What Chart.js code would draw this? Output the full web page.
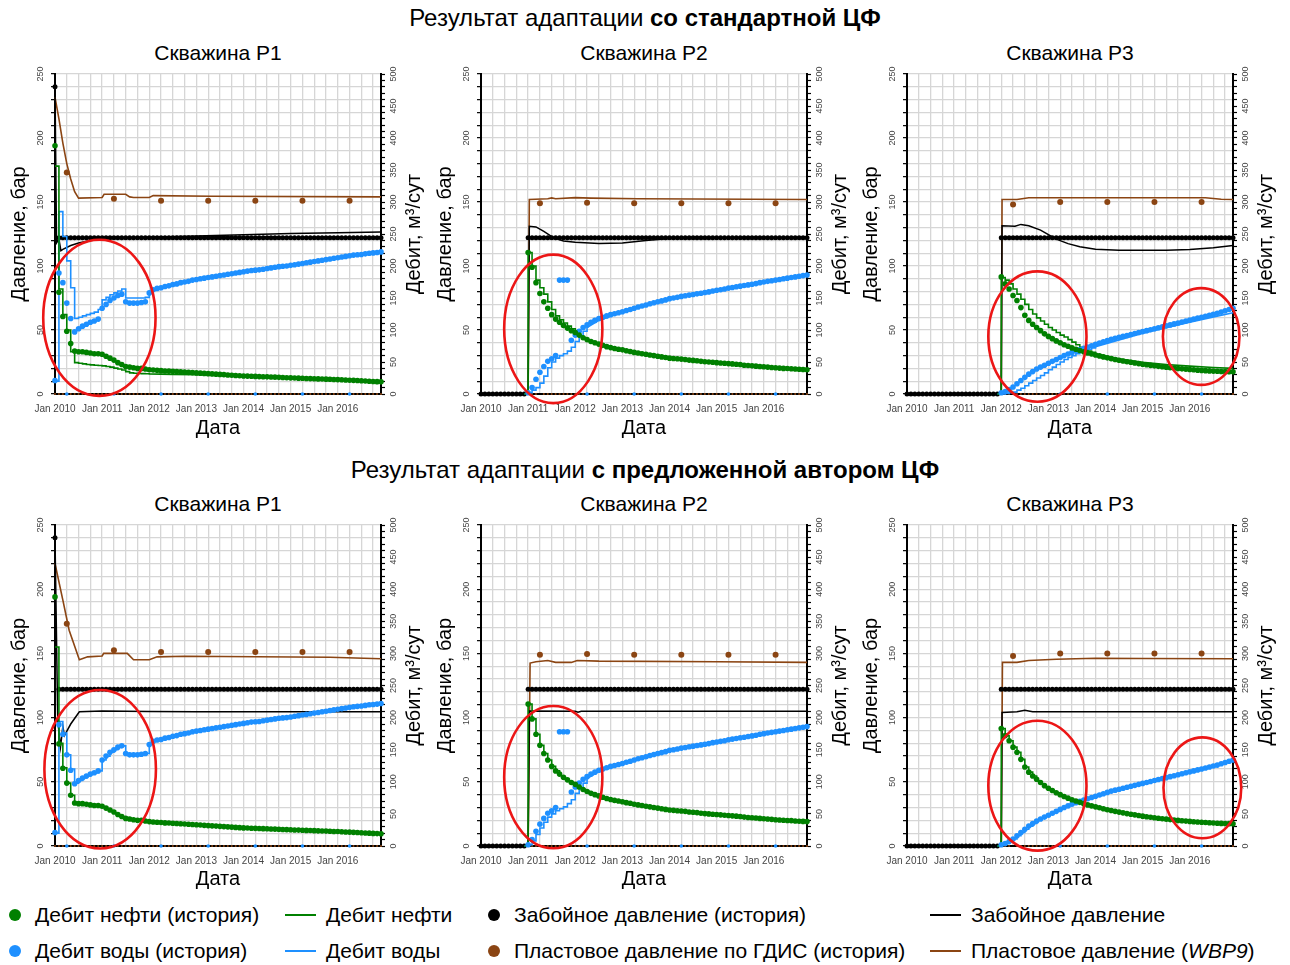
<!DOCTYPE html>
<html><head><meta charset="utf-8">
<script src="https://cdn.jsdelivr.net/npm/chart.js@4.4.0/dist/chart.umd.min.js"></script>
<style>
body{margin:0;width:1290px;height:965px;background:#fff;position:relative;overflow:hidden;font-family:"Liberation Sans",Arial,sans-serif;color:#000;}
.h{position:absolute;left:0;width:1290px;text-align:center;font-size:24px;line-height:28px;white-space:nowrap;}
.pt{position:absolute;width:400px;text-align:center;font-size:21px;line-height:24px;}
canvas{position:absolute;}
.lt{position:absolute;font-size:21px;line-height:24px;white-space:nowrap;}
.ld{position:absolute;width:12px;height:12px;border-radius:50%;}
.ll{position:absolute;width:31px;height:2px;}
</style></head><body>
<div class="h" style="top:4px">Результат адаптации <b>со стандартной ЦФ</b></div>
<div class="h" style="top:456px">Результат адаптации <b>с предложенной автором ЦФ</b></div>
<div id="titles"></div>
<canvas id="c0" width="430" height="400" style="left:0px;top:40px"></canvas>
<canvas id="c1" width="430" height="400" style="left:426px;top:40px"></canvas>
<canvas id="c2" width="430" height="400" style="left:852px;top:40px"></canvas>
<canvas id="c3" width="430" height="400" style="left:0px;top:491px"></canvas>
<canvas id="c4" width="430" height="400" style="left:426px;top:491px"></canvas>
<canvas id="c5" width="430" height="400" style="left:852px;top:491px"></canvas>
<div id="legend"></div>
<script>
// ---------------- DATA ----------------
const X_TICK_LABELS = ['Jan 2010','Jan 2011','Jan 2012','Jan 2013','Jan 2014','Jan 2015','Jan 2016'];
const Y_LEFT_LABELS = [0,50,100,150,200,250];
const Y_RIGHT_LABELS = [0,50,100,150,200,250,300,350,400,450,500];
const WELL_TITLES = ['Скважина P1','Скважина P2','Скважина P3'];
const LEFT_TITLE = 'Давление, бар';
const RIGHT_TITLE = 'Дебит, м³/сут';
const X_TITLE = 'Дата';

// History (monthly, month 0 = Jan 2010); rates in m3/day, pressures in bar
const P1_OIL_START = 0;
const P1_OIL_HIST = [
 388,159,121,98,79,67,66,66,65,64,63,63,
 62,59,56,53,49,46,43,42,41,40,40,39,
 38,37.5,37,36.5,36,35.8,35.5,35,34.6,34.2,33.8,33.4,
 33,32.6,32.2,31.8,31.4,31,30.6,30.2,29.8,29.4,29,28.6,
 28.2,28,27.7,27.5,27.2,27,26.8,26.5,26.3,26,25.8,25.5,
 25.2,25,24.8,24.5,24.3,24.1,23.9,23.6,23.4,23.2,23,22.7,
 22.5,22.2,21.9,21.6,21.3,21,20.6,20.3,20,19.6,19.3,19];
const P1_WATER_START = 0;
const P1_WATER_HIST = [
 21,189,174,142,118,97,102,106,109,112,114,117,
 134,140,146,150,154,156,144,142,142,142,143,144,
 158,163,165,166,168,169,171,172,174,175,176,178,
 179,180,181,182,183,184,185,186,187,188,189,190,
 191,192,193,193.5,194,195,196,197,198,199,199.5,200,
 201,202,203,204,205,206,207,208,209,210,211,212,
 213,214,215,216,217,217.5,218,219,220,220.5,221,222];
const P1_BHP_HIST = [
 240,122,122,122,122,122,122,122,122,122,122,122,
 122,122,122,122,122,122,122,122,122,122,122,122,
 122,122,122,122,122,122,122,122,122,122,122,122,
 122,122,122,122,122,122,122,122,122,122,122,122,
 122,122,122,122,122,122,122,122,122,122,122,122,
 122,122,122,122,122,122,122,122,122,122,122,122,
 122,122,122,122,122,122,122,122,122,122,122,122];
const P1_PRES_HIST = [
 0,0,0,173,0,0,0,0,0,0,0,0,
 0,0,0,152.5,0,0,0,0,0,0,0,0,
 0,0,0,151,0,0,0,0,0,0,0,0,
 0,0,0,151,0,0,0,0,0,0,0,0,
 0,0,0,151,0,0,0,0,0,0,0,0,
 0,0,0,151,0,0,0,0,0,0,0,0,
 0,0,0,151,0,0,0,0,0,0,0,0];
const P1_WATER_ZERO_M = [3,15,27,39,51,63,75];

const P2_OIL_START = 12;
const P2_OIL_HIST = [
 221,198,174,157,144,134,124,117,112,107,103,99,
 96,92,88,85,82,80,78,76,74,72.5,71,70,
 69,67.5,66.5,65,64,63,62,61,60,59,58,57,
 56,55.5,55,54.5,54,53,52.5,52,51,50.5,50,49.5,
 49,48.5,48,47.5,47,46.5,46,45,44.5,44,43.5,43,
 42.5,42,41.5,41,40.5,40,39.8,39.5,39,38.6,38.3,38];
const P2_WATER_START = 12;
const P2_WATER_HIST = [
 2,10,23,34,43,51,55,60,178,178,178,84,
 92,98,104,108,112,115,118,120,122,124,125.5,127,
 128.5,130.5,132,134,136,137.5,139,141,142.5,144,145.5,147,
 149,150,151,152.5,153.5,154.5,155.5,156.5,157.5,158.5,159.5,161,
 162,163,164,165.5,166.5,167.5,168.5,169.5,170.5,171.5,172.5,174,
 175,176,177,178,179,180,181,182,183,184,185,186];
const P2_BHP_HIST = [
 0,0,0,0,0,0,0,0,0,0,0,0,
 122,122,122,122,122,122,122,122,122,122,122,122,
 122,122,122,122,122,122,122,122,122,122,122,122,
 122,122,122,122,122,122,122,122,122,122,122,122,
 122,122,122,122,122,122,122,122,122,122,122,122,
 122,122,122,122,122,122,122,122,122,122,122,122,
 122,122,122,122,122,122,122,122,122,122,122,122];
const P2_PRES_HIST = [
 0,0,0,0,0,0,0,0,0,0,0,0,
 0,0,0,149,0,0,0,0,0,0,0,0,
 0,0,0,149.5,0,0,0,0,0,0,0,0,
 0,0,0,149,0,0,0,0,0,0,0,0,
 0,0,0,149,0,0,0,0,0,0,0,0,
 0,0,0,149,0,0,0,0,0,0,0,0,
 0,0,0,149,0,0,0,0,0,0,0,0];
const P2_WATER_ZERO_M = [27,39,51,63,75];

const P3_OIL_START = 24;
const P3_OIL_HIST = [
 183,172,164,154,146,135,123,115,109,104,99,94,
 90,86.5,83,80,77,74.5,72,70,68,66,64,62.5,
 61,59.5,58,56.5,55.2,54,52.8,51.6,50.5,49.5,48.5,47.5,
 46.5,45.6,44.8,44,43.2,42.5,41.8,41.1,40.5,39.9,39.3,38.8,
 38.3,37.8,37.3,36.9,36.5,36.1,35.8,35.5,35.2,35,34.8,34.6];
const P3_WATER_START = 24;
const P3_WATER_HIST = [
 2,4,7,11,16,21,26,31,35,39,42,45,
 48,51,54,57,60,62.5,65,67.5,69.5,71.5,73.5,75.5,
 77.5,79.5,81.5,83.5,85.5,87,88.5,90,91.5,93,94.5,96,
 97.5,99,100.5,102,103.5,105,106.5,108,109.5,111,112.5,114,
 115.5,117,118.5,120,121.5,123,124.5,126,128,130,132,134];
const P3_BHP_HIST = [
 0,0,0,0,0,0,0,0,0,0,0,0,
 0,0,0,0,0,0,0,0,0,0,0,0,
 122,122,122,122,122,122,122,122,122,122,122,122,
 122,122,122,122,122,122,122,122,122,122,122,122,
 122,122,122,122,122,122,122,122,122,122,122,122,
 122,122,122,122,122,122,122,122,122,122,122,122,
 122,122,122,122,122,122,122,122,122,122,122,122];
const P3_PRES_HIST = [
 0,0,0,0,0,0,0,0,0,0,0,0,
 0,0,0,0,0,0,0,0,0,0,0,0,
 0,0,0,148,0,0,0,0,0,0,0,0,
 0,0,0,150,0,0,0,0,0,0,0,0,
 0,0,0,150,0,0,0,0,0,0,0,0,
 0,0,0,150,0,0,0,0,0,0,0,0,
 0,0,0,150,0,0,0,0,0,0,0,0];
const P3_WATER_ZERO_M = [39,51,63,75];

// Simulated, standard objective function (A) and proposed one (B)
// oil / water: monthly stepped part + tail (month, value)
const P1A_OIL_STEP_START = 0;
const P1A_OIL_STEP = [356,164,124,100,66,49,48,47,46,45.5,45,44.5,44,43,42,40.5,39,37.5,35,33,32.5,32,31.8,31.6];
const P1A_OIL_TAIL_M = [24,30,36,44,48,60,72,83];
const P1A_OIL_TAIL_V = [31.4,30.6,30,29.2,28,25,22.3,18.8];
const P1A_WATER_STEP_START = 0;
const P1A_WATER_STEP = [20,285,246,208,166,118,120,122,124,126,128,132,147,151,155,158,161,164,150,150,150,150,150,151];
const P1A_WATER_TAIL_M = [24,25,36,48,60,72,83];
const P1A_WATER_TAIL_V = [158,162,179,191,201,213,222];
const P1A_BHP_M = [0,0.4,1,1.5,2,4,6,9,12,24,36,48,60,72,83];
const P1A_BHP_V = [240,118,121,112,113,116,118,120,121.5,122.5,123.5,124.5,125.3,126,126.5];
const P1A_WBP_M = [0,1,2,3,4,5,6,12,12.5,18,19,20,24,25,40,83];
const P1A_WBP_V = [232,215,196,180,168,158,153,153.5,156,156,154,153.5,153.5,155,154.5,154];

const P1B_OIL_STEP_START = 0;
const P1B_OIL_STEP = [310,160,122,98,79,65];
const P1B_OIL_TAIL_M = [6,12,15,17,20,24,36,48,60,72,83];
const P1B_OIL_TAIL_V = [66,62,53,46,41,38,33,28.2,25.2,22.5,19];
const P1B_WATER_STEP_START = 0;
const P1B_WATER_STEP = [20,194,176,142,120,98,102,106,109,112,114,117,134,140,146,150,154,156,144,142,142,142,143,144];
const P1B_WATER_TAIL_M = [24,25,36,48,60,72,83];
const P1B_WATER_TAIL_V = [158,162,179,191,201,213,222];
const P1B_BHP_M = [0,0.7,1.4,2,2.4,4,6.2,12,24,36,83];
const P1B_BHP_V = [240,98,77,93,86,95,104.5,105.2,104.8,104.5,104.5];
const P1B_WBP_M = [0,2,3.6,6.2,8.3,12,12.4,18.4,20,24,26,33,70,83];
const P1B_WBP_V = [220,191.5,168,145,147.3,148,150,150,145,145,147.3,147.8,147,145.8];

const P2A_OIL_STEP_START = 11;
const P2A_OIL_STEP = [0,221,200,178,166,156,144,132,122,116,111,106,102];
const P2A_OIL_TAIL_M = [24,25,27,30,36,48,60,72,83];
const P2A_OIL_TAIL_V = [98,93,86,79,70,57,49.5,43,39.5];
const P2A_WATER_STEP_START = 11;
const P2A_WATER_STEP = [0,2,6,10,17,28,41,50,56,60,63,67,73,82,90,98];
const P2A_WATER_TAIL_M = [27,30,36,48,60,72,83];
const P2A_WATER_TAIL_V = [104,115,128,149,162,175,186];
const P2A_BHP_M = [0,12,12.3,14,16,18.5,21,24,30,36,42,48,83];
const P2A_BHP_V = [0,0,131,130.5,127,122,119.5,118.5,117.5,118,120,121.5,122];
const P2A_WBP_M = [0,12,12.3,17,18,19,24,28,40,83];
const P2A_WBP_V = [0,0,152,152.5,153.2,152.5,153.4,153,152.5,152];

const P2B_OIL_STEP_START = 11;
const P2B_OIL_STEP = [0,221,198,174,157,144,134,124,117];
const P2B_OIL_TAIL_M = [20,24,30,36,48,60,72,83];
const P2B_OIL_TAIL_V = [112,96,78,69,56,49,42.5,38];
const P2B_WATER_STEP_START = 11;
const P2B_WATER_STEP = [0,2,8,18,28,37,45,50,55,58,61,66,72,82,90,98];
const P2B_WATER_TAIL_M = [27,30,36,48,60,72,83];
const P2B_WATER_TAIL_V = [105,116,128,149,162,175,186];
const P2B_BHP_M = [0,12,12.3,24,24.7,25.5,83];
const P2B_BHP_V = [0,0,105.2,105,104.2,105,105];
const P2B_WBP_M = [0,12,12.5,14,17,19,23,24.5,30,60,83];
const P2B_WBP_V = [0,0,142.5,143.5,144.5,143,143,144.5,144,143.5,143];

const P3A_OIL_STEP_START = 23;
const P3A_OIL_STEP = [0,182,178,172,164,156,148,140,132,125,119,114,109,104,100,96,92,89,85,81,77,73,70,67,65];
const P3A_OIL_TAIL_M = [48,54,60,66,72,78,83];
const P3A_OIL_TAIL_V = [63,55,49.5,46,43.5,41.5,40];
const P3A_WATER_STEP_START = 23;
const P3A_WATER_STEP = [0,0,1,2,3,6,9,13,17,21,25,29,33,38,42,46,50,54,57,60,63,66,68,70,72];
const P3A_WATER_TAIL_M = [48,60,72,83];
const P3A_WATER_TAIL_V = [74,95,112,127];
const P3A_BHP_M = [0,24,24.2,27.5,29,31,34,36,38,41,44,48,54,66,72,78,83];
const P3A_BHP_V = [0,0,131.5,131,132.5,131.5,128,124.5,121,117.5,115,113,112.3,112.3,112.8,114.2,116];
const P3A_WBP_M = [0,24,24.2,28,31,60,76,80,83];
const P3A_WBP_V = [0,0,152,152,153.3,153.3,153.3,152.2,152];

const P3B_OIL_STEP_START = 23;
const P3B_OIL_STEP = [0,183,172,164,154,146,135,123,115,109];
const P3B_OIL_TAIL_M = [33,36,42,48,60,72,83];
const P3B_OIL_TAIL_V = [104,90,72,61,46.5,38.3,34.6];
const P3B_WATER_STEP_START = 23;
const P3B_WATER_STEP = [0,2,4,7,11,16,21,26,31,35];
const P3B_WATER_TAIL_M = [33,36,44,48,60,72,83];
const P3B_WATER_TAIL_V = [39,48,69.5,77.5,97.5,115.5,134];
const P3B_BHP_M = [0,24,24.2,28,30,32,83];
const P3B_BHP_V = [0,0,104,104.5,105.8,104.5,104.5];
const P3B_WBP_M = [0,24,24.3,28,31,38,48,60,83];
const P3B_WBP_V = [0,0,143,143,144.5,145.5,146.2,146,145.8];

// Red highlight ellipses: [centre month, centre bar, half-width months, half-height bar]
const E_P1A = [[11.3,59.5,14.3,61]];
const E_P2A = [[18.4,50.9,12.5,58]];
const E_P3A = [[33.2,44.9,12.5,50.9],[74.9,44.9,9.75,37.8]];
const E_P1B = [[11.5,59.8,14.2,61.7]];
const E_P2B = [[18.4,53.6,12.5,55.4]];
const E_P3B = [[33.2,47,12.5,50.6],[75.2,45.3,9.9,39.3]];

// ---------------- RENDERING ----------------
const FONT = '"Liberation Sans", Arial, sans-serif';
const GREEN = 'rgb(0,128,0)', BLUE = 'rgb(30,144,255)', BLACK = '#000', BROWN = 'rgb(139,69,19)', RED = 'rgb(236,22,22)';
const GRID = '#d6d6d6';
Chart.defaults.font.family = FONT;

function monthly(start, vals){ return vals.map((v,i)=>({x:start+i,y:v})); }
function pairs(ms, vs){ return ms.map((m,i)=>({x:m,y:vs[i]})); }
function steppedPts(start, vals, tm, tv){
  const pts = [];
  vals.forEach((v,i)=>{ pts.push({x:start+i,y:v}); pts.push({x:start+i+1,y:v}); });
  return pts.concat(pairs(tm,tv));
}
const isInt = v => Math.abs(v-Math.round(v))<1e-6;

const H = [
 {oilS:P1_OIL_START, oil:P1_OIL_HIST, watS:P1_WATER_START, wat:P1_WATER_HIST, bhp:P1_BHP_HIST, pres:P1_PRES_HIST, wz:P1_WATER_ZERO_M},
 {oilS:P2_OIL_START, oil:P2_OIL_HIST, watS:P2_WATER_START, wat:P2_WATER_HIST, bhp:P2_BHP_HIST, pres:P2_PRES_HIST, wz:P2_WATER_ZERO_M},
 {oilS:P3_OIL_START, oil:P3_OIL_HIST, watS:P3_WATER_START, wat:P3_WATER_HIST, bhp:P3_BHP_HIST, pres:P3_PRES_HIST, wz:P3_WATER_ZERO_M}
];
const S = [
 {os:P1A_OIL_STEP_START, o:P1A_OIL_STEP, otm:P1A_OIL_TAIL_M, otv:P1A_OIL_TAIL_V, ws:P1A_WATER_STEP_START, w:P1A_WATER_STEP, wtm:P1A_WATER_TAIL_M, wtv:P1A_WATER_TAIL_V, bm:P1A_BHP_M, bv:P1A_BHP_V, pm:P1A_WBP_M, pv:P1A_WBP_V, e:E_P1A},
 {os:P2A_OIL_STEP_START, o:P2A_OIL_STEP, otm:P2A_OIL_TAIL_M, otv:P2A_OIL_TAIL_V, ws:P2A_WATER_STEP_START, w:P2A_WATER_STEP, wtm:P2A_WATER_TAIL_M, wtv:P2A_WATER_TAIL_V, bm:P2A_BHP_M, bv:P2A_BHP_V, pm:P2A_WBP_M, pv:P2A_WBP_V, e:E_P2A},
 {os:P3A_OIL_STEP_START, o:P3A_OIL_STEP, otm:P3A_OIL_TAIL_M, otv:P3A_OIL_TAIL_V, ws:P3A_WATER_STEP_START, w:P3A_WATER_STEP, wtm:P3A_WATER_TAIL_M, wtv:P3A_WATER_TAIL_V, bm:P3A_BHP_M, bv:P3A_BHP_V, pm:P3A_WBP_M, pv:P3A_WBP_V, e:E_P3A},
 {os:P1B_OIL_STEP_START, o:P1B_OIL_STEP, otm:P1B_OIL_TAIL_M, otv:P1B_OIL_TAIL_V, ws:P1B_WATER_STEP_START, w:P1B_WATER_STEP, wtm:P1B_WATER_TAIL_M, wtv:P1B_WATER_TAIL_V, bm:P1B_BHP_M, bv:P1B_BHP_V, pm:P1B_WBP_M, pv:P1B_WBP_V, e:E_P1B},
 {os:P2B_OIL_STEP_START, o:P2B_OIL_STEP, otm:P2B_OIL_TAIL_M, otv:P2B_OIL_TAIL_V, ws:P2B_WATER_STEP_START, w:P2B_WATER_STEP, wtm:P2B_WATER_TAIL_M, wtv:P2B_WATER_TAIL_V, bm:P2B_BHP_M, bv:P2B_BHP_V, pm:P2B_WBP_M, pv:P2B_WBP_V, e:E_P2B},
 {os:P3B_OIL_STEP_START, o:P3B_OIL_STEP, otm:P3B_OIL_TAIL_M, otv:P3B_OIL_TAIL_V, ws:P3B_WATER_STEP_START, w:P3B_WATER_STEP, wtm:P3B_WATER_TAIL_M, wtv:P3B_WATER_TAIL_V, bm:P3B_BHP_M, bv:P3B_BHP_V, pm:P3B_WBP_M, pv:P3B_WBP_V, e:E_P3B}
];

const rightTitle = {
  id:'rightTitle',
  afterDraw(chart, args, opts){
    const {ctx, chartArea} = chart;
    ctx.save();
    ctx.translate(chartArea.right + opts.offset, (chartArea.top + chartArea.bottom)/2);
    ctx.rotate(-Math.PI/2);
    ctx.font = '20px ' + FONT;
    ctx.fillStyle = '#000';
    ctx.textAlign = 'center'; ctx.textBaseline = 'middle';
    ctx.fillText(opts.text, 0, 0);
    ctx.restore();
  }
};
const ellipses = {
  id:'ellipses',
  afterDatasetsDraw(chart, args, opts){
    const {ctx} = chart; const xs = chart.scales.x, ys = chart.scales.y;
    ctx.save(); ctx.strokeStyle = RED; ctx.lineWidth = 2.6;
    (opts.items||[]).forEach(([cx,cy,rx,ry])=>{
      const px = xs.getPixelForValue(cx), py = ys.getPixelForValue(cy);
      const prx = Math.abs(xs.getPixelForValue(cx+rx)-px), pry = Math.abs(ys.getPixelForValue(cy+ry)-py);
      ctx.beginPath(); ctx.ellipse(px,py,prx,pry,0,0,Math.PI*2); ctx.stroke();
    });
    ctx.restore();
  }
};

function dots(data, color, r, axis, order){
  return {data, showLine:false, pointRadius:r, pointHoverRadius:r, pointBackgroundColor:color, pointBorderWidth:0, borderColor:color, yAxisID:axis, order, clip:false};
}
function line(data, color, w, axis, order){
  return {data, showLine:true, pointRadius:0, borderColor:color, borderWidth:w, tension:0, yAxisID:axis, order, clip:false};
}

function makeChart(idx){
  const well = idx % 3, h = H[well], s = S[idx];
  const xh = idx < 3 ? 46 : 45;
  const datasets = [
    dots(monthly(h.oilS, h.oil), GREEN, 2.8, 'y2', 1),
    dots(monthly(h.watS, h.wat), BLUE, 2.8, 'y2', 2),
    line(steppedPts(s.os, s.o, s.otm, s.otv), GREEN, 1.6, 'y2', 3),
    line(steppedPts(s.ws, s.w, s.wtm, s.wtv), BLUE, 1.6, 'y2', 4),
    dots(monthly(0, h.bhp), BLACK, 2.5, 'y', 5),
    line(pairs(s.bm, s.bv), BLACK, 1.5, 'y', 6),
    Object.assign(dots(monthly(0, h.pres), BROWN, 3, 'y', 7), {pointRadius: c => (c.raw && c.raw.y > 0) ? 3 : 1}),
    line(pairs(s.pm, s.pv), BROWN, 1.6, 'y', 8),
    dots(h.wz.map(m=>({x:m,y:0})), BLUE, 1.8, 'y2', 9)
  ];
  new Chart(document.getElementById('c'+idx), {
    type:'scatter',
    data:{datasets},
    plugins:[rightTitle, ellipses],
    options:{
      responsive:false, animation:false, devicePixelRatio:1, events:[],
      layout:{padding:{top:34, left:0, right:0, bottom:0}},
      plugins:{legend:{display:false}, tooltip:{enabled:false},
        rightTitle:{text:RIGHT_TITLE, offset:33}, ellipses:{items:s.e}},
      scales:{
        x:{type:'linear', min:0, max:83,
          grid:{color:GRID, lineWidth:1.3, drawTicks:false},
          border:{color:'#000', width:2},
          ticks:{stepSize:3, autoSkip:false, maxRotation:0, minRotation:0, includeBounds:false, padding:9, color:'#444', font:{size:10},
            callback:v => (isInt(v) && Math.round(v)%12===0) ? X_TICK_LABELS[Math.round(v)/12] : ''},
          title:{display:true, text:X_TITLE, color:'#000', font:{size:20}, padding:{top:0,bottom:0}},
          afterFit:sc=>{sc.height=xh; sc.paddingLeft=0; sc.paddingRight=0;}
        },
        y:{type:'linear', position:'left', min:0, max:250,
          grid:{color:GRID, lineWidth:1.3, tickColor:'#000', tickLength:4, tickWidth:1.2},
          border:{color:'#000', width:2},
          ticks:{stepSize:10, autoSkip:false, minRotation:90, maxRotation:90, crossAlign:'center', padding:3, color:'#444', font:{size:9},
            callback:v => Y_LEFT_LABELS.includes(Math.round(v)) && isInt(v) ? String(Math.round(v)) : ''},
          title:{display:true, text:LEFT_TITLE, color:'#000', font:{size:20}, padding:{top:7,bottom:0}},
          afterFit:sc=>{sc.width=55; sc.paddingTop=0; sc.paddingBottom=0;}
        },
        y2:{type:'linear', position:'right', min:0, max:500,
          grid:{drawOnChartArea:false, tickColor:'#000', tickLength:4, tickWidth:1.2},
          border:{color:'#000', width:2},
          ticks:{stepSize:10, autoSkip:false, minRotation:90, maxRotation:90, crossAlign:'center', padding:1, color:'#444', font:{size:9},
            callback:v => Y_RIGHT_LABELS.includes(Math.round(v)) && isInt(v) ? String(Math.round(v)) : ''},
          afterFit:sc=>{sc.width=49; sc.paddingTop=0; sc.paddingBottom=0;}
        }
      }
    }
  });
}
for (let i=0;i<6;i++) makeChart(i);

// panel titles
const PLOT_CENTERS = [218, 644, 1070];
const tdiv = document.getElementById('titles');
[41, 492].forEach(top => {
  WELL_TITLES.forEach((t,i)=>{
    const d = document.createElement('div'); d.className='pt';
    d.style.left = (PLOT_CENTERS[i]-200)+'px'; d.style.top = top+'px'; d.textContent = t; tdiv.appendChild(d);
  });
});

// legend
const LEGEND = [
  {kind:'dot', color:GREEN, x:15, y:915, text:'Дебит нефти (история)', tx:35},
  {kind:'line', color:GREEN, x:285, y:915, text:'Дебит нефти', tx:326},
  {kind:'dot', color:BLACK, x:494, y:915, text:'Забойное давление (история)', tx:514},
  {kind:'line', color:BLACK, x:930, y:915, text:'Забойное давление', tx:971},
  {kind:'dot', color:BLUE, x:15, y:951, text:'Дебит воды (история)', tx:35},
  {kind:'line', color:BLUE, x:285, y:951, text:'Дебит воды', tx:326},
  {kind:'dot', color:BROWN, x:494, y:951, text:'Пластовое давление по ГДИС (история)', tx:514},
  {kind:'line', color:BROWN, x:930, y:951, text:'Пластовое давление (<i>WBP9</i>)', tx:971}
];
const lg = document.getElementById('legend');
LEGEND.forEach(it=>{
  const m = document.createElement('div');
  if (it.kind==='dot'){ m.className='ld'; m.style.left=(it.x-6)+'px'; m.style.top=(it.y-6)+'px'; }
  else { m.className='ll'; m.style.left=it.x+'px'; m.style.top=(it.y-1)+'px'; }
  m.style.background = it.color; lg.appendChild(m);
  const t = document.createElement('div'); t.className='lt';
  t.style.left = it.tx+'px'; t.style.top = (it.y-12)+'px'; t.innerHTML = it.text; lg.appendChild(t);
});
</script>
</body></html>
